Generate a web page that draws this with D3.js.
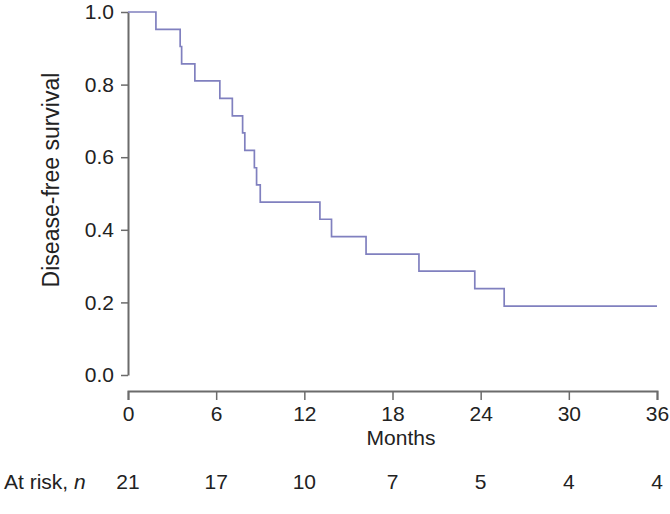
<!DOCTYPE html>
<html>
<head>
<meta charset="utf-8">
<script src="https://cdn.jsdelivr.net/npm/d3@7"></script>
<style>
  html, body { margin: 0; padding: 0; background: #fff; }
  svg { display: block; }
  text { font-family: "Liberation Sans", Arial, Helvetica, sans-serif; fill: #222; }
</style>
</head>
<body>
<svg id="chart" width="670" height="514"></svg>
<script>
// Event times (months) and survival after each step
const stepTimes = [0, 1.9, 3.55, 3.65, 4.55, 6.25, 7.1, 7.8, 7.95, 8.6, 8.75, 9.0, 13.06, 13.85, 16.2, 19.8, 23.6, 25.6];
const survival  = [1.0, 0.952, 0.905, 0.857, 0.810, 0.762, 0.714, 0.667, 0.619, 0.571, 0.524, 0.476, 0.429, 0.381, 0.333, 0.286, 0.238, 0.190];
const endTime = 36;
const xTicks = [0, 6, 12, 18, 24, 30, 36];
const yTicks = [0.0, 0.2, 0.4, 0.6, 0.8, 1.0];
const atRisk = [21, 17, 10, 7, 5, 4, 4];

const svg = d3.select("#chart");
const x = d3.scaleLinear().domain([0, 36]).range([128, 657]);
const y = d3.scaleLinear().domain([0, 1]).range([375, 12]);
const axisColor = "#6b6b6b";
const fontFam = "'Liberation Sans', Arial, sans-serif";

// Y axis
const yAxis = d3.axisLeft(y).tickValues(yTicks).tickFormat(d3.format(".1f")).tickSize(7).tickSizeOuter(0);
const gy = svg.append("g").attr("transform", "translate(128,0)").call(yAxis);
gy.select(".domain").attr("stroke", axisColor).attr("stroke-width", 2);
gy.selectAll(".tick line").attr("stroke", axisColor).attr("stroke-width", 1.5);
gy.selectAll(".tick text").attr("font-size", 21).attr("fill", "#222").attr("x", -14)
  .attr("font-family", fontFam);

// X axis
const xAxis = d3.axisBottom(x).tickValues(xTicks).tickSize(9).tickSizeOuter(9).tickPadding(6);
const gx = svg.append("g").attr("transform", "translate(0,391)").call(xAxis);
gx.select(".domain").attr("stroke", axisColor).attr("stroke-width", 2);
gx.selectAll(".tick line").attr("stroke", axisColor).attr("stroke-width", 1.5);
gx.selectAll(".tick text").attr("font-size", 21).attr("fill", "#222")
  .attr("font-family", fontFam);

// Survival curve
const pts = stepTimes.map((t, i) => [t, survival[i]]);
pts.push([endTime, survival[survival.length - 1]]);
const line = d3.line().x(d => x(d[0])).y(d => y(d[1])).curve(d3.curveStepAfter);
svg.append("path").datum(pts)
  .attr("d", line)
  .attr("fill", "none")
  .attr("stroke", "#8080bf")
  .attr("stroke-width", 1.7);

// Axis titles
svg.append("text")
  .attr("transform", `translate(59,180) rotate(-90)`)
  .attr("text-anchor", "middle")
  .attr("font-size", 23)
  .text("Disease-free survival");

svg.append("text")
  .attr("x", 401).attr("y", 445)
  .attr("text-anchor", "middle")
  .attr("font-size", 21)
  .text("Months");

// At-risk row
const ar = svg.append("text").attr("x", 4).attr("y", 489).attr("font-size", 21);
ar.append("tspan").text("At risk, ");
ar.append("tspan").attr("font-style", "italic").text("n");

svg.append("g").selectAll("text").data(atRisk).join("text")
  .attr("x", (d, i) => x(xTicks[i]))
  .attr("y", 489)
  .attr("text-anchor", "middle")
  .attr("font-size", 21)
  .text(d => d);
</script>
</body>
</html>
